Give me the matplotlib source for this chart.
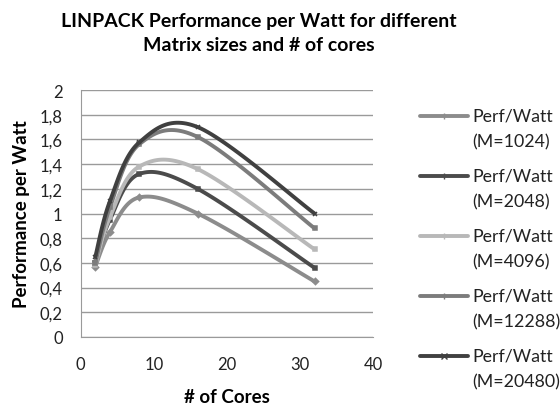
import numpy as np
import matplotlib.pyplot as plt
from matplotlib.lines import Line2D
from matplotlib.ticker import FuncFormatter

plt.rcParams['font.family'] = ['Lato', 'DejaVu Sans']

cores = [2, 4, 8, 16, 32]
m_labels = ['1024', '2048', '4096', '12288', '20480']
perf_1024 = [0.57, 0.85, 1.13, 1.00, 0.45]
perf_2048 = [0.60, 0.95, 1.32, 1.20, 0.56]
perf_4096 = [0.58, 0.97, 1.38, 1.36, 0.71]
perf_12288 = [0.60, 1.05, 1.56, 1.62, 0.88]
perf_20480 = [0.65, 1.10, 1.575, 1.70, 1.00]

series = [perf_1024, perf_2048, perf_4096, perf_12288, perf_20480]
colors = ['#8c8c8c', '#4b4b4b', '#b8b8b8', '#7c7c7c', '#404040']
markers = ['D', 's', 's', 's', 'x']

W, H = 560, 406


def smooth(x, y, n=30):
    # excel-ish smoothed line: catmull-rom as cubic bezier
    p = np.column_stack([x, y]).astype(float)
    p = np.vstack([p[0], p, p[-1]])
    out = []
    t = np.linspace(0, 1, n)[:, None]
    for i in range(1, len(p) - 2):
        p0, p3 = p[i], p[i + 1]
        c1 = p0 + (p[i + 1] - p[i - 1]) / 6
        c2 = p3 - (p[i + 2] - p[i]) / 6
        seg = (1 - t) ** 3 * p0 + 3 * (1 - t) ** 2 * t * c1 + 3 * (1 - t) * t ** 2 * c2 + t ** 3 * p3
        out.append(seg if i == 1 else seg[1:])
    out = np.vstack(out)
    return out[:, 0], out[:, 1]


fig = plt.figure(figsize=(W / 100, H / 100), dpi=100)
ax = fig.add_axes([80.7 / W, 1 - 338 / H, (373 - 80.7) / W, (338 - 91) / H])

for i, (vals, col, mk, m) in enumerate(zip(series, colors, markers, m_labels)):
    sx, sy = smooth(cores, vals)
    ax.plot(sx, sy, color=col, lw=2.8, solid_capstyle='round')
    ax.plot(cores, vals, ls='none', marker=mk, ms=3.2, color=col, mew=1.1)

    # legend entry, excel style: handle next to the first text line
    y = 1 - (117 + 60 * i) / H
    fig.add_artist(Line2D([420 / W, 444 / W, 468 / W], [y, y, y], transform=fig.transFigure,
                          color=col, lw=2.8, marker='x' if mk == 'x' else '|',
                          ms=4, markevery=[1], solid_capstyle='round'))
    fig.text(472 / W, y, 'Perf/Watt', fontsize=12.8, va='center', ha='left', color='#222222')
    fig.text(472 / W, y - 25 / H, f'(M={m})', fontsize=12.8, va='center', ha='left', color='#222222')

ax.set_xlim(0, 40)
ax.set_ylim(0, 2)
ax.set_xticks([0, 10, 20, 30, 40])
ax.set_yticks(np.arange(0, 2.01, 0.2))
ax.yaxis.set_major_formatter(FuncFormatter(lambda v, _: f'{v:.1f}'.rstrip('0').rstrip('.').replace('.', ',')))
ax.grid(axis='y', color='#9a9a9a', lw=1)
ax.set_axisbelow(True)
for s in ['top', 'right']:
    ax.spines[s].set_visible(False)
for s in ['left', 'bottom']:
    ax.spines[s].set_color('#9a9a9a')
ax.tick_params(length=0, labelsize=12, colors='#222222')
ax.tick_params(axis='y', pad=13)
ax.tick_params(axis='x', pad=14)

ax.set_xlabel('# of Cores', fontsize=13.5, fontweight='bold', labelpad=11)
ax.set_ylabel('Performance per Watt', fontsize=13.5, fontweight='bold', labelpad=7)
fig.suptitle('LINPACK Performance per Watt for different\nMatrix sizes and # of cores',
             fontsize=14, fontweight='bold', x=0.462, y=0.968, linespacing=1.5)

fig.savefig('out.png', dpi=100)
